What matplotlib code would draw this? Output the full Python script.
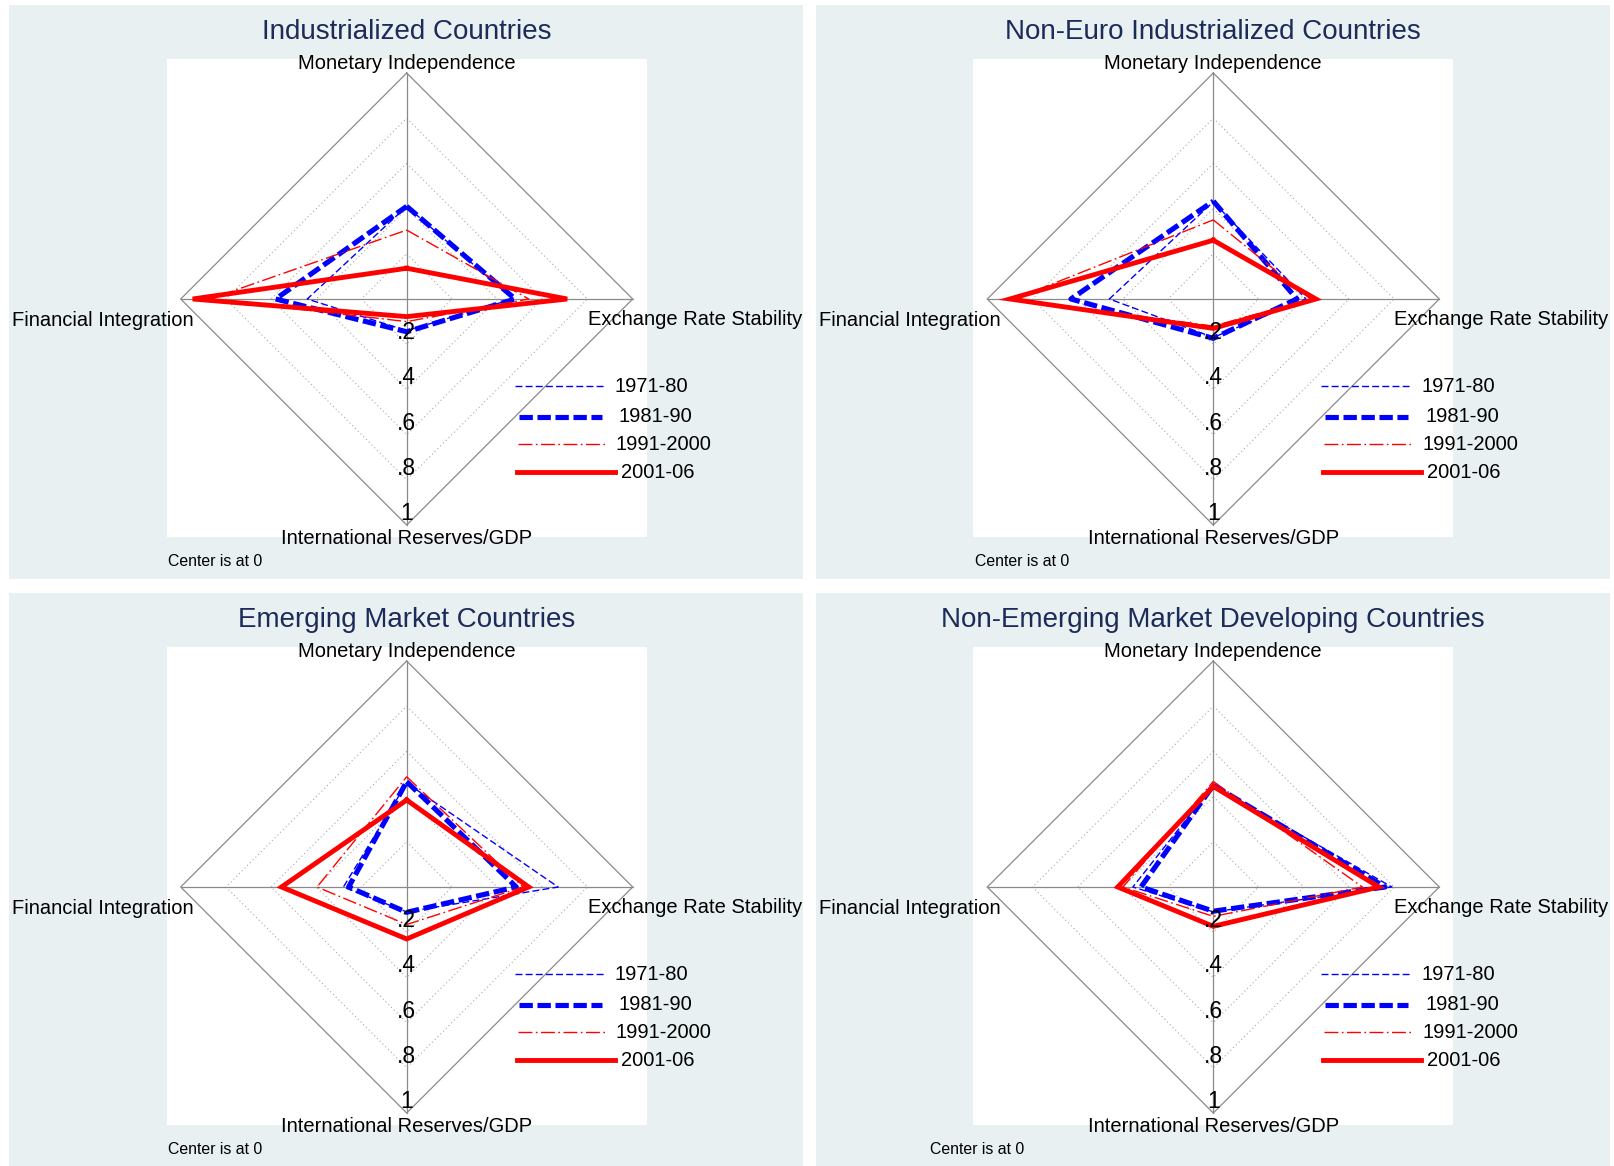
import matplotlib.pyplot as plt
from matplotlib.patches import Rectangle

plt.rcParams['font.family'] = ['Liberation Sans', 'DejaVu Sans']

# spokes in drawing order: top, right, bottom, left
spokes = ['Monetary Independence', 'Exchange Rate Stability',
          'International Reserves/GDP', 'Financial Integration']
periods = ['1971-80', '1981-90', '1991-2000', '2001-06']
titles = ['Industrialized Countries', 'Non-Euro Industrialized Countries',
          'Emerging Market Countries', 'Non-Emerging Market Developing Countries']

# rows = periods, columns = MI, ERS, IR/GDP, FI
industrialized = [[0.41, 0.47, 0.14, 0.44],
                  [0.41, 0.48, 0.145, 0.58],
                  [0.305, 0.54, 0.10, 0.87],
                  [0.136, 0.71, 0.078, 0.947]]
non_euro = [[0.43, 0.41, 0.17, 0.46],
            [0.433, 0.37, 0.174, 0.63],
            [0.35, 0.43, 0.12, 0.88],
            [0.26, 0.454, 0.13, 0.90]]
emerging = [[0.46, 0.67, 0.11, 0.28],
            [0.466, 0.485, 0.112, 0.257],
            [0.488, 0.515, 0.166, 0.397],
            [0.385, 0.54, 0.23, 0.554]]
non_emerging = [[0.45, 0.79, 0.11, 0.356],
                [0.45, 0.76, 0.107, 0.32],
                [0.467, 0.66, 0.13, 0.40],
                [0.445, 0.733, 0.174, 0.423]]
panels = [industrialized, non_euro, emerging, non_emerging]

grid_levels = [0.2, 0.4, 0.6, 0.8]
tick_vals = [0.2, 0.4, 0.6, 0.8, 1.0]
tick_labels = ['.2', '.4', '.6', '.8', '1']

styles = [dict(color='blue', lw=1.0, dashes=(5, 2.3)),
          dict(color='blue', lw=3.7, dashes=(2.6, 0.9)),
          dict(color='red', lw=1.0, dashes=(10, 2.5, 1.2, 2.5)),
          dict(color='red', lw=3.5, ls='-')]

W, H = 1615, 1166
R = 226.0  # pixels per unit radius
bg = '#e8f0f2'
navy = '#1c2b58'
gray = '#8a8a8a'

fig = plt.figure(figsize=(W / 100, H / 100), dpi=100)
fig.patch.set_facecolor('white')

centers = [(406.7, 299), (1213.3, 299), (406.7, 887), (1213.3, 887)]
note_dx = [-239, -238, -239, -283]

# legend rows: y offset (px below center), line x0, x1, text x (px from center)
leg_rows = [(87, 108, 199, 208), (118, 112, 195, 212),
            (145, 111, 200, 209), (173, 110, 208, 214)]

for k, (cx, cy) in enumerate(centers):
    fig.add_artist(Rectangle(((cx - 397.7) / W, 1 - (cy + 280) / H),
                             794 / W, 574 / H, transform=fig.transFigure,
                             facecolor=bg, edgecolor='none', zorder=0))
    ax = fig.add_axes([(cx - 240) / W, 1 - (cy + 238) / H, 480 / W, 478 / H])
    ax.set_facecolor('white')
    ax.set_xlim(-240 / R, 240 / R)
    ax.set_ylim(-238 / R, 240 / R)
    ax.set_xticks([])
    ax.set_yticks([])
    for s in ax.spines.values():
        s.set_visible(False)

    for r in grid_levels:
        ax.plot([0, r, 0, -r, 0], [r, 0, -r, 0, r], color='#a8a8a8', lw=0.8,
                ls=(0, (1, 2.5)), zorder=1)
    ax.plot([0, 1, 0, -1, 0], [1, 0, -1, 0, 1], color=gray, lw=0.9, zorder=1)
    ax.plot([-1, 1], [0, 0], color=gray, lw=0.9, zorder=1)
    ax.plot([0, 0], [-1, 1], color=gray, lw=0.9, zorder=1)

    for vals, st in zip(panels[k], styles):
        mi, ers, ir, fi = vals
        ax.plot([0, ers, 0, -fi, 0], [mi, 0, -ir, 0, mi], zorder=3,
                solid_joinstyle='miter', **st)

    for t, lab in zip(tick_vals, tick_labels):
        ax.text(0, -t, lab, ha='center', va='bottom', fontsize=16.5, zorder=4)

    ax.text(0, 1 + 4 / R, spokes[0], ha='center', va='baseline', fontsize=14.5)
    ax.text(181 / R, -26 / R, spokes[1], ha='left', va='baseline', fontsize=14.5)
    ax.text(0, -1 - 19 / R, spokes[2], ha='center', va='baseline', fontsize=14.5)
    ax.text(-212.7 / R, -27 / R, spokes[3], ha='right', va='baseline', fontsize=14.5)

    ax.text(note_dx[k] / R, -262 / R, 'Center is at 0', ha='left', va='center',
            fontsize=11.4)

    for (dy, x0, x1, tx), st, lab in zip(leg_rows, styles, periods):
        ax.plot([x0 / R, x1 / R], [-dy / R, -dy / R], **st)
        ax.text(tx / R, -dy / R, lab, ha='left', va='center', fontsize=14.5)

    fig.text(cx / W, 1 - (cy - 267) / H, titles[k], ha='center', va='center',
             fontsize=20, color=navy)

fig.savefig('out.png', dpi=100)
